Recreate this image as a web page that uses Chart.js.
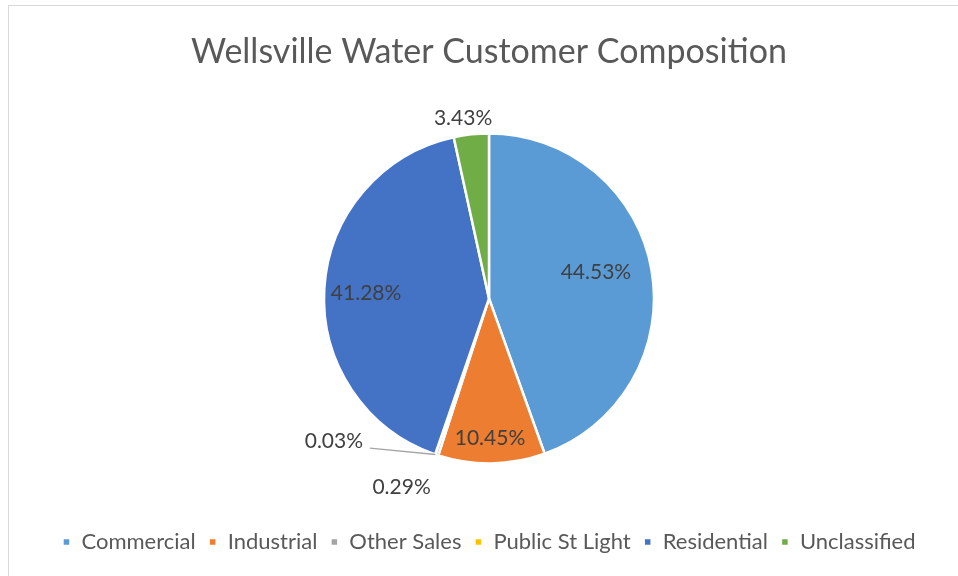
<!DOCTYPE html>
<html>
<head>
<meta charset="utf-8">
<script src="https://cdn.jsdelivr.net/npm/chart.js@4.4.1/dist/chart.umd.min.js"></script>
<style>
  html, body { margin: 0; padding: 0; background: #fff; }
  .wrap { position: relative; width: 958px; height: 576px; }
  .frame { position: absolute; left: 8px; top: 5px; right: -10px; bottom: -10px; border-left: 1px solid #d9d9d9; border-top: 1px solid #d9d9d9; }
  canvas { position: absolute; left: 0; top: 0; }
</style>
</head>
<body>
<div class="wrap">
  <div class="frame"></div>
  <canvas id="pie" width="958" height="576"></canvas>
</div>
<script>
/* global Chart */

var categories = ['Commercial', 'Industrial', 'Other Sales', 'Public St Light', 'Residential', 'Unclassified']
var shares = [44.53, 10.45, 0.29, 0.03, 41.28, 3.43]
var sliceColors = ['#5B9BD5', '#ED7D31', '#A5A5A5', '#FFC000', '#4472C4', '#70AD47']

// where each value label sits, as offsets from the pie centre in units of radius
var labelSpots = [
  { dx: 0.648, dy: -0.158 },
  { dx: 0.006, dy: 0.848 },
  { dx: -0.53, dy: 1.145 },
  { dx: -0.94, dy: 0.865, leader: true },
  { dx: -0.745, dy: -0.03 },
  { dx: -0.157, dy: -1.09 }
]

var FONT = 'Lato, "Open Sans", sans-serif'

var valueLabels = {
  id: 'valueLabels',
  afterDatasetsDraw (chart) {
    var ctx = chart.ctx
    var arcs = chart.getDatasetMeta(0).data
    ctx.save()
    ctx.font = '21px ' + FONT
    ctx.fillStyle = '#404040'
    ctx.textAlign = 'center'
    ctx.textBaseline = 'middle'
    arcs.forEach(function (arc, i) {
      var r = arc.outerRadius
      var spot = labelSpots[i]
      var x = arc.x + spot.dx * r
      var y = arc.y + spot.dy * r
      if (spot.leader) {
        // thin grey line from the label to the tiny slice edge
        var mid = (arc.startAngle + arc.endAngle) / 2
        ctx.strokeStyle = '#A5A5A5'
        ctx.lineWidth = 1.5
        ctx.beginPath()
        ctx.moveTo(x + 36, y + 7)
        ctx.lineTo(arc.x + Math.cos(mid) * r, arc.y + Math.sin(mid) * r)
        ctx.stroke()
      }
      ctx.fillText(shares[i].toFixed(2) + '%', x, y)
    })
    ctx.restore()
  }
}

new Chart(document.getElementById('pie'), {
  type: 'pie',
  data: {
    labels: categories,
    datasets: [{
      data: shares,
      backgroundColor: sliceColors,
      borderColor: '#ffffff',
      borderWidth: 2.5,
      radius: 165
    }]
  },
  options: {
    responsive: false,
    animation: false,
    layout: { padding: { left: 20, right: 0, top: 0, bottom: 13 } },
    plugins: {
      tooltip: { enabled: false },
      title: {
        display: true,
        text: 'Wellsville Water Customer Composition',
        color: '#595959',
        font: { family: FONT, size: 34, weight: 'normal' },
        padding: { top: 32, bottom: 6 }
      },
      legend: {
        position: 'bottom',
        labels: {
          color: '#595959',
          font: { family: FONT, size: 22 },
          boxWidth: 8,
          boxHeight: 8,
          padding: 13
        }
      }
    }
  },
  plugins: [valueLabels]
})
</script>
</body>
</html>
